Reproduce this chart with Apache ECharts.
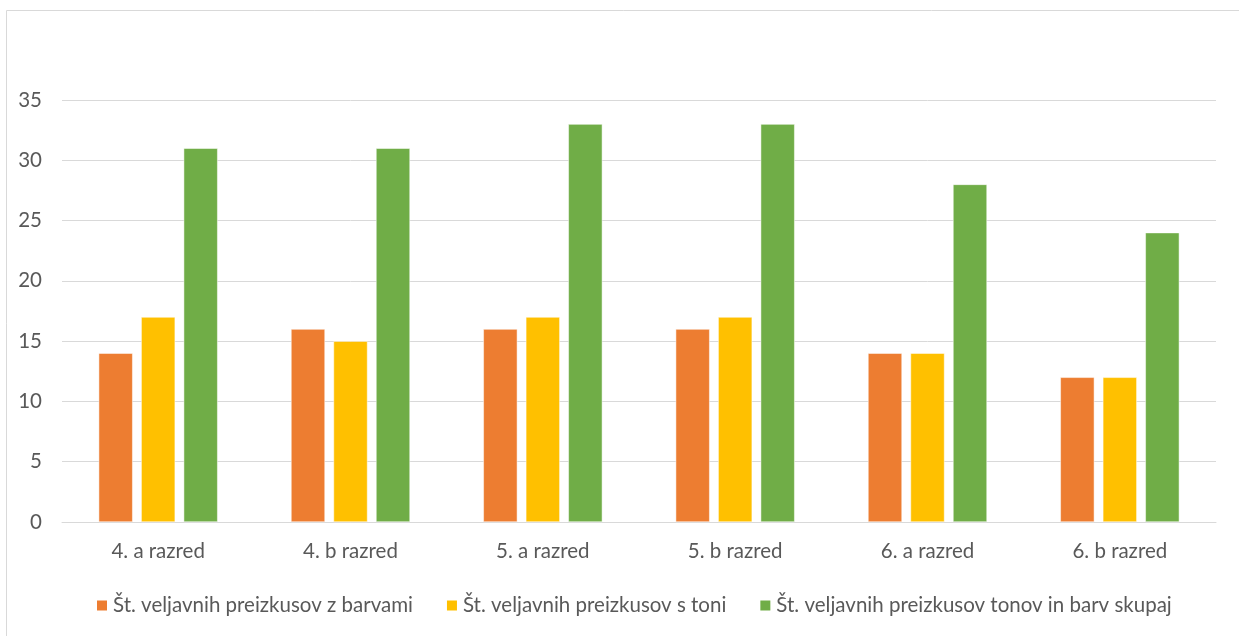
<!DOCTYPE html>
<html>
<head>
<meta charset="utf-8">
<script src="https://cdn.jsdelivr.net/npm/echarts@6/dist/echarts.min.js"></script>
<style>html,body{margin:0;padding:0;background:#fff;}#c{width:1239px;height:636px;}</style>
</head>
<body>
<div id="c"></div>
<script>
const categories = ['4. a razred', '4. b razred', '5. a razred', '5. b razred', '6. a razred', '6. b razred'];
const seriesNames = ['Št. veljavnih preizkusov z barvami', 'Št. veljavnih preizkusov s toni', 'Št. veljavnih preizkusov tonov in barv skupaj'];
const barvami = [14, 16, 16, 16, 14, 12];
const toni = [17, 15, 17, 17, 14, 12];
const skupaj = [31, 31, 33, 33, 28, 24];
const colors = ['#ED7D31', '#FFC000', '#70AD47'];

const font = 'Lato, "Liberation Sans", sans-serif';
const chart = echarts.init(document.getElementById('c'), null, {renderer: 'canvas'});
const mk = (name, data, color) => ({
  name, type: 'bar', data, barWidth: 34, barGap: '25%',
  itemStyle: {color, borderColor: '#fff', borderWidth: 0.5},
  emphasis: {disabled: true}
});
chart.setOption({
  animation: false,
  graphic: [{type: 'rect', shape: {x: 6.5, y: 10.5, width: 1260, height: 700}, style: {fill: 'none', stroke: '#d9d9d9', lineWidth: 1}, silent: true}],
  color: colors,
  grid: {left: 62, right: 23, top: 100, bottom: 114, containLabel: false},
  legend: {
    top: 590, left: 90, itemWidth: 12, itemHeight: 12, itemGap: 32,
    icon: 'rect', textStyle: {color: '#595959', fontSize: 20.5, fontFamily: font},
    data: seriesNames
  },
  xAxis: {
    type: 'category', data: categories,
    axisLine: {lineStyle: {color: '#d9d9d9', width: 1}},
    axisTick: {show: false},
    axisLabel: {color: '#595959', fontSize: 20.5, fontFamily: font, margin: 19}
  },
  yAxis: {
    type: 'value', min: 0, max: 35, interval: 5,
    axisLine: {show: false}, axisTick: {show: false},
    splitLine: {lineStyle: {color: '#d9d9d9', width: 1}},
    axisLabel: {color: '#595959', fontSize: 20.5, fontFamily: font, margin: 20}
  },
  series: [mk(seriesNames[0], barvami, colors[0]), mk(seriesNames[1], toni, colors[1]), mk(seriesNames[2], skupaj, colors[2])]
});
</script>
</body>
</html>
